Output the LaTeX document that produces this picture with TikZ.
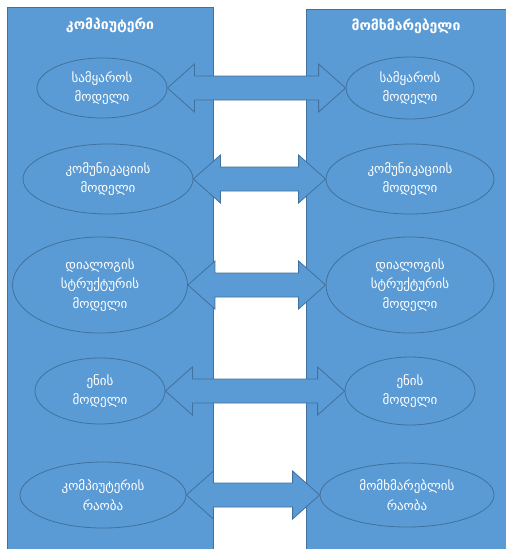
\documentclass[tikz,border=0pt]{standalone}
\usepackage{fontspec}
\setmainfont{DejaVu Sans}
\usepackage{xcolor}
\usepackage{tikz}
\usetikzlibrary{shapes.geometric, calc}

\definecolor{panelblue}{RGB}{91,155,213}
\definecolor{edgeblue}{RGB}{65,113,156}

\begin{document}
\begin{tikzpicture}[
    x=1pt, y=-1pt,
    panel/.style={rectangle, draw=edgeblue, fill=panelblue, line width=0.8pt, inner sep=0pt},
    title/.style={text=white, font=\bfseries\fontsize{14}{16}\selectfont},
    model/.style={ellipse, draw=edgeblue, fill=panelblue, line width=0.8pt, inner sep=0pt, text=white, align=center, font=\fontsize{13}{19.5}\selectfont},
    twoway/.style={draw=edgeblue, fill=panelblue, line width=0.8pt, line join=miter}
]
\clip (0,0) rectangle (506,549);

% Panels
\node[panel, minimum width=206pt, minimum height=548pt] (pc) at (110,281) {};
\node[panel, minimum width=206pt, minimum height=546pt] (pu) at (409,282) {};
\node[title] (tc) at (110,25) {კომპიუტერი};
\node[title] (tu) at (406,26) {მომხმარებელი};

% Computer side
\node[model, minimum width=130pt, minimum height=60pt] (c1) at (102,88) {სამყაროს\\მოდელი};
\node[model, minimum width=170pt, minimum height=70pt] (c2) at (108,179) {კომუნიკაციის\\მოდელი};
\node[model, minimum width=175pt, minimum height=96pt] (c3) at (100,285) {დიალოგის\\სტრუქტურის\\მოდელი};
\node[model, minimum width=130pt, minimum height=66pt] (c4) at (100,391) {ენის\\მოდელი};
\node[model, minimum width=166pt, minimum height=66pt] (c5) at (103,495) {კომპიუტერის\\რაობა};

% User side
\node[model, minimum width=128pt, minimum height=62pt] (u1) at (410,88) {სამყაროს\\მოდელი};
\node[model, minimum width=168pt, minimum height=70pt] (u2) at (410,179) {კომუნიკაციის\\მოდელი};
\node[model, minimum width=168pt, minimum height=96pt] (u3) at (410,285) {დიალოგის\\სტრუქტურის\\მოდელი};
\node[model, minimum width=130pt, minimum height=68pt] (u4) at (410,391) {ენის\\მოდელი};
\node[model, minimum width=174pt, minimum height=64pt] (u5) at (407,495) {მომხმარებლის\\რაობა};

% Arrows between models
\foreach \i in {1,...,5}
  \draw[twoway] let \p1=(c\i.east), \p2=(u\i.west) in
    (\p1) -- (\x1+27pt,\y1+24pt) -- (\x1+27pt,\y1+12pt) -- (\x2-27pt,\y1+12pt)
    -- (\x2-27pt,\y1+24pt) -- (\x2,\y1) -- (\x2-27pt,\y1-24pt) -- (\x2-27pt,\y1-12pt)
    -- (\x1+27pt,\y1-12pt) -- (\x1+27pt,\y1-24pt) -- cycle;

\end{tikzpicture}
\end{document}
